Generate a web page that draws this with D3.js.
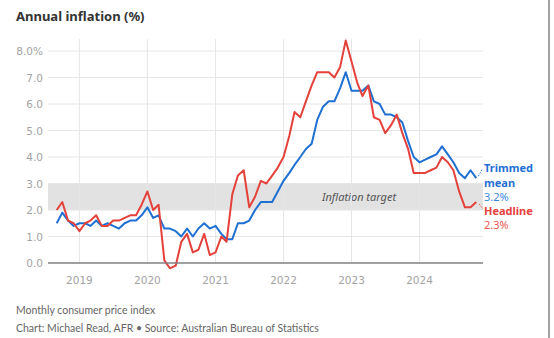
<!DOCTYPE html>
<html>
<head>
<meta charset="utf-8">
<script src="https://cdn.jsdelivr.net/npm/d3@7"></script>
<style>
  body { margin: 0; background: #fff; }
  svg { display: block; }
</style>
</head>
<body>
<div class="layout"></div>
<script>
// monthly series, Sep 2018 .. Nov 2024
var firstMonth = "2018-09";
var headline = [
  2.0, 2.3, 1.6, 1.5, 1.2, 1.5, 1.6, 1.8, 1.4, 1.4,
  1.6, 1.6, 1.7, 1.8, 1.8, 2.2, 2.7, 2.0, 2.2, 0.1,
  -0.2, -0.1, 0.8, 1.1, 0.4, 0.5, 1.1, 0.3, 0.4, 1.0,
  0.8, 2.6, 3.3, 3.5, 2.1, 2.5, 3.1, 3.0, 3.3, 3.6,
  4.0, 4.8, 5.7, 5.5, 6.1, 6.7, 7.2, 7.2, 7.2, 7.0,
  7.4, 8.4, 7.6, 6.8, 6.3, 6.7, 5.5, 5.4, 4.9, 5.2,
  5.6, 4.9, 4.3, 3.4, 3.4, 3.4, 3.5, 3.6, 4.0, 3.8,
  3.5, 2.7, 2.1, 2.1, 2.3
];
var trimmedMean = [
  1.5, 1.9, 1.6, 1.4, 1.5, 1.5, 1.4, 1.6, 1.4, 1.5,
  1.4, 1.3, 1.5, 1.6, 1.6, 1.8, 2.1, 1.7, 1.8, 1.3,
  1.3, 1.2, 1.0, 1.3, 1.0, 1.3, 1.5, 1.3, 1.4, 1.1,
  0.9, 0.9, 1.5, 1.5, 1.6, 2.0, 2.3, 2.3, 2.3, 2.7,
  3.1, 3.4, 3.7, 4.0, 4.3, 4.5, 5.4, 5.9, 6.1, 6.1,
  6.6, 7.2, 6.5, 6.5, 6.5, 6.7, 6.1, 6.0, 5.6, 5.6,
  5.5, 5.3, 4.6, 4.0, 3.8, 3.9, 4.0, 4.1, 4.4, 4.1,
  3.8, 3.4, 3.2, 3.5, 3.2
];
var yTicks = [0, 1, 2, 3, 4, 5, 6, 7, 8];
var yearTicks = [2019, 2020, 2021, 2022, 2023, 2024];
var targetBand = [2, 3];

var margin = {top: 51, right: 71, bottom: 75, left: 48},
    width = 554 - margin.left - margin.right,
    height = 338 - margin.top - margin.bottom;

var blue = "#1f70d3", red = "#e5413b";

var parseMonth = d3.timeParse("%Y-%m");
var start = parseMonth(firstMonth);
var months = headline.map(function(d, i) { return d3.timeMonth.offset(start, i); });

var x = d3.scaleTime()
    .domain([months[0], months[months.length - 1]])
    .range([8.7, 428.3]);

var y = d3.scaleLinear()
    .domain([0, 8])
    .range([height, 0]);

var svg = d3.select(".layout").append("svg")
    .attr("width", 554)
    .attr("height", 338);

svg.append("text")
    .attr("x", 16)
    .attr("y", 21)
    .style("font-family", "'Noto Sans', sans-serif")
    .style("font-weight", "bold")
    .style("font-size", "13px")
    .style("fill", "#333")
    .text("Annual inflation (%)");

var g = svg.append("g")
    .attr("transform", "translate(" + margin.left + "," + margin.top + ")");

// target band
g.append("rect")
    .attr("x", 0)
    .attr("width", width)
    .attr("y", y(targetBand[1]))
    .attr("height", y(targetBand[0]) - y(targetBand[1]))
    .style("fill", "#e2e2e2");

g.append("text")
    .attr("x", 311)
    .attr("y", y(2.5) + 4)
    .style("text-anchor", "middle")
    .style("font-family", "'Noto Sans', sans-serif")
    .style("font-style", "italic")
    .style("font-size", "11px")
    .style("fill", "#555")
    .text("Inflation target");

// horizontal grid
g.selectAll(".hgrid")
    .data(yTicks.filter(function(d) { return d > 0; }))
    .enter().append("line")
    .attr("class", "hgrid")
    .attr("x1", 0).attr("x2", width)
    .attr("y1", function(d) { return y(d); })
    .attr("y2", function(d) { return y(d); })
    .style("stroke", "#e6e6e6")
    .style("stroke-width", 1);

// vertical grid at year starts
g.selectAll(".vgrid")
    .data(yearTicks)
    .enter().append("line")
    .attr("class", "vgrid")
    .attr("x1", function(d) { return x(new Date(d, 0, 1)); })
    .attr("x2", function(d) { return x(new Date(d, 0, 1)); })
    .attr("y1", -12).attr("y2", height)
    .style("stroke", "#e6e6e6")
    .style("stroke-width", 1);

// y labels
g.selectAll(".ylab")
    .data(yTicks)
    .enter().append("text")
    .attr("class", "ylab")
    .attr("x", -5)
    .attr("y", function(d) { return y(d) + 4; })
    .style("text-anchor", "end")
    .style("font-family", "'DejaVu Sans', sans-serif")
    .style("font-size", "10.5px")
    .style("fill", "#a3a3a3")
    .text(function(d) { return d3.format(".1f")(d) + (d === 8 ? "%" : ""); });

// x labels
g.selectAll(".xlab")
    .data(yearTicks)
    .enter().append("text")
    .attr("class", "xlab")
    .attr("x", function(d) { return x(new Date(d, 0, 1)); })
    .attr("y", height + 21)
    .style("text-anchor", "middle")
    .style("font-family", "'DejaVu Sans', sans-serif")
    .style("font-size", "10.5px")
    .style("fill", "#a3a3a3")
    .text(function(d) { return d; });

var line = d3.line()
    .x(function(d, i) { return x(months[i]); })
    .y(function(d) { return y(d); });

g.append("path")
    .datum(trimmedMean)
    .attr("d", line)
    .style("fill", "none")
    .style("stroke", blue)
    .style("stroke-width", 2)
    .style("stroke-linejoin", "round");

g.append("path")
    .datum(headline)
    .attr("d", line)
    .style("fill", "none")
    .style("stroke", red)
    .style("stroke-width", 2)
    .style("stroke-linejoin", "round");

// zero baseline
g.append("line")
    .attr("x1", 0).attr("x2", width)
    .attr("y1", y(0)).attr("y2", y(0))
    .style("stroke", "#808080")
    .style("stroke-width", 1.5);

// end labels
var last = months.length - 1;
var xe = x(months[last]);

g.append("line")
    .attr("x1", xe + 2).attr("y1", y(trimmedMean[last]) - 2)
    .attr("x2", xe + 6).attr("y2", y(trimmedMean[last]) - 9)
    .style("stroke", blue).style("stroke-width", 1)
    .style("stroke-dasharray", "1.5,1.5");

g.append("line")
    .attr("x1", xe + 3).attr("y1", y(headline[last]) + 2)
    .attr("x2", xe + 7).attr("y2", y(headline[last]) + 7)
    .style("stroke", red).style("stroke-width", 1)
    .style("stroke-dasharray", "1.5,1.5");

var labels = [
  {text: "Trimmed", y: 121, color: blue, bold: true},
  {text: "mean", y: 135.5, color: blue, bold: true},
  {text: d3.format(".1f")(trimmedMean[last]) + "%", y: 149.5, color: "#3a88de", bold: false},
  {text: "Headline", y: 163.5, color: red, bold: true},
  {text: d3.format(".1f")(headline[last]) + "%", y: 177.5, color: "#e85a52", bold: false}
];

g.selectAll(".endlab")
    .data(labels)
    .enter().append("text")
    .attr("class", "endlab")
    .attr("x", width + 1)
    .attr("y", function(d) { return d.y; })
    .style("font-family", "'Noto Sans', sans-serif")
    .style("font-size", "11px")
    .style("font-weight", function(d) { return d.bold ? "bold" : "normal"; })
    .style("fill", function(d) { return d.color; })
    .text(function(d) { return d.text; });

// footer
svg.append("text")
    .attr("x", 16)
    .attr("y", 314)
    .style("font-family", "Lato, sans-serif")
    .style("font-size", "10.5px")
    .style("fill", "#666")
    .text("Monthly consumer price index");

svg.append("text")
    .attr("x", 16)
    .attr("y", 332)
    .style("font-family", "Lato, sans-serif")
    .style("font-size", "10.5px")
    .style("fill", "#666")
    .text("Chart: Michael Read, AFR \u2022 Source: Australian Bureau of Statistics");

// right edge rule
svg.append("line")
    .attr("x1", 549).attr("x2", 549)
    .attr("y1", 0).attr("y2", 338)
    .style("stroke", "#444")
    .style("stroke-width", 1);
</script>
</body>
</html>
